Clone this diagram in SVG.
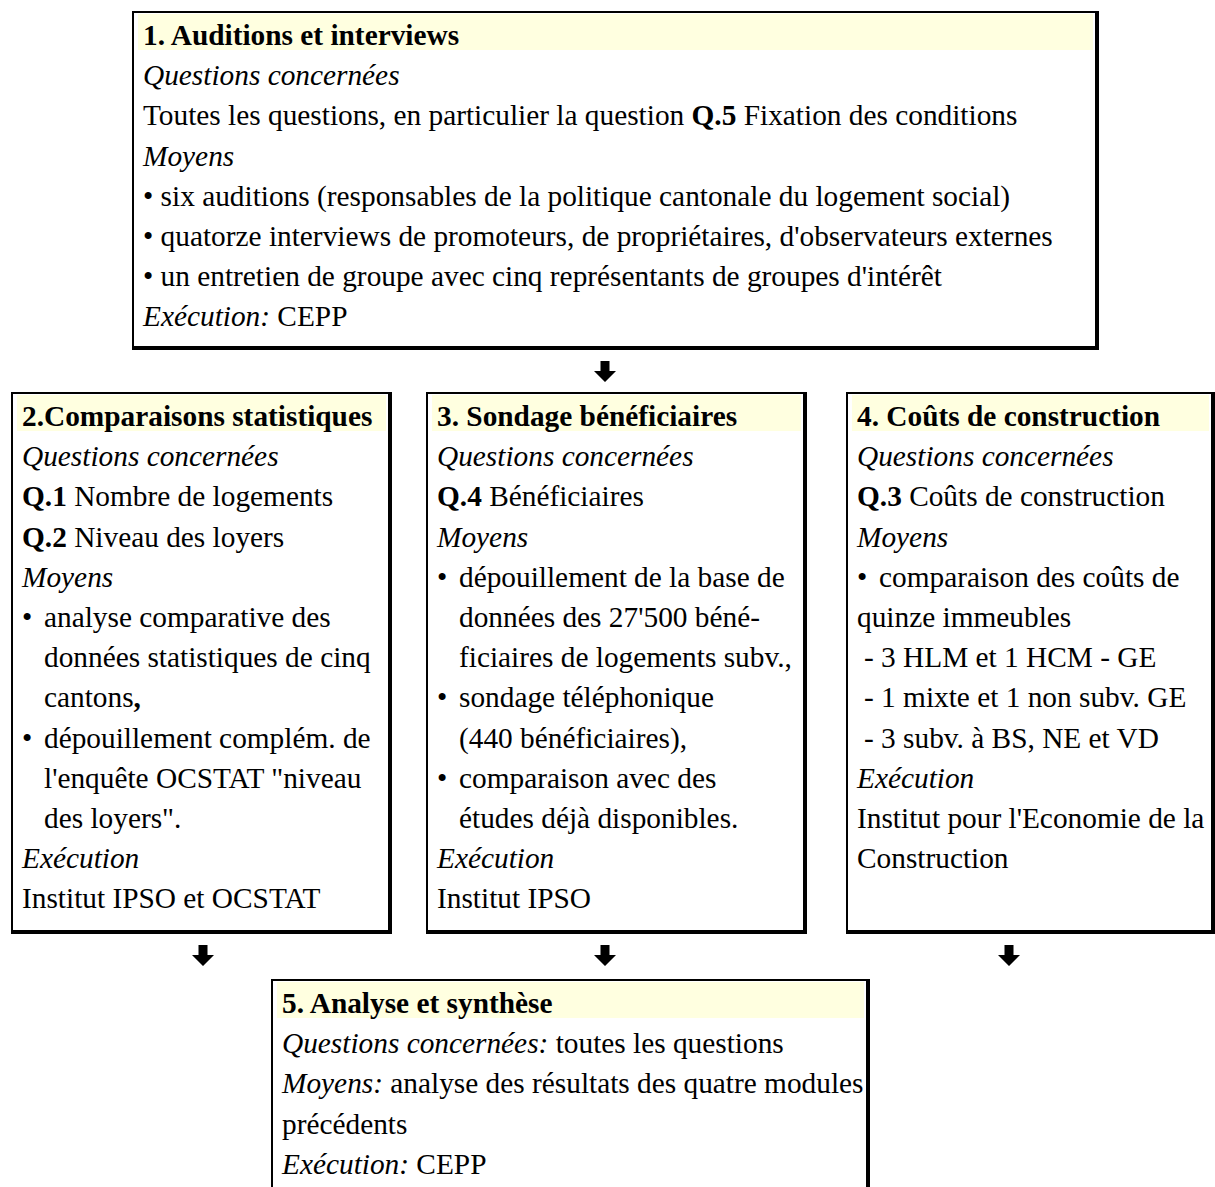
<svg xmlns="http://www.w3.org/2000/svg" xmlns:xlink="http://www.w3.org/1999/xlink" width="1215" height="1187" viewBox="0 0 1215 1187">
<style>
.t{font-family:"Liberation Serif","Times New Roman",serif;font-size:29.33px;fill:#000}
.b{font-weight:bold}
.i{font-style:italic}
.frame{fill:#000}
.inner{fill:#fff}
.hd{fill:#FFFFE0}
</style>
<defs>
<path id="arr" d="M-4.5,0 H4.5 V10 H11 L0,21 L-11,10 H-4.5 Z" fill="#000"/>
</defs>
<rect width="1215" height="1187" fill="#fff"/>

<g id="node1">
<rect class="frame" x="132" y="11" width="967" height="339"/>
<rect class="inner" x="134" y="13" width="961" height="333"/>
<rect class="hd" x="138" y="14" width="955" height="36"/>
<text class="t b" x="143" y="45">1. Auditions et interviews</text>
<text class="t i" x="143" y="85.2">Questions concernées</text>
<text class="t" x="143" y="125.4">Toutes les questions, en particulier la question <tspan class="b">Q.5</tspan> Fixation des conditions</text>
<text class="t i" x="143" y="165.6">Moyens</text>
<text class="t" x="143" y="205.8">• six auditions (responsables de la politique cantonale du logement social)</text>
<text class="t" x="143" y="246">• quatorze interviews de promoteurs, de propriétaires, d'observateurs externes</text>
<text class="t" x="143" y="286.2">• un entretien de groupe avec cinq représentants de groupes d'intérêt</text>
<text class="t" x="143" y="326.4"><tspan class="i">Exécution:</tspan> CEPP</text>
</g>

<g id="node2">
<rect class="frame" x="11" y="392" width="381" height="542"/>
<rect class="inner" x="13" y="394" width="375" height="536"/>
<rect class="hd" x="17" y="395" width="369" height="36"/>
<text class="t b" x="22" y="426">2.Comparaisons statistiques</text>
<text class="t i" x="22" y="466.2">Questions concernées</text>
<text class="t" x="22" y="506.4"><tspan class="b">Q.1</tspan> Nombre de logements</text>
<text class="t" x="22" y="546.6"><tspan class="b">Q.2</tspan> Niveau des loyers</text>
<text class="t i" x="22" y="586.8">Moyens</text>
<text class="t" x="22" y="627">•</text>
<text class="t" x="44" y="627">analyse comparative des</text>
<text class="t" x="44" y="667.2">données statistiques de cinq</text>
<text class="t" x="44" y="707.4">cantons<tspan class="b">,</tspan></text>
<text class="t" x="22" y="747.6">•</text>
<text class="t" x="44" y="747.6">dépouillement complém. de</text>
<text class="t" x="44" y="787.8">l'enquête OCSTAT "niveau</text>
<text class="t" x="44" y="828">des loyers".</text>
<text class="t i" x="22" y="868.2">Exécution</text>
<text class="t" x="22" y="908.4">Institut IPSO et OCSTAT</text>
</g>

<g id="node3">
<rect class="frame" x="426" y="392" width="381" height="542"/>
<rect class="inner" x="428" y="394" width="375" height="536"/>
<rect class="hd" x="432" y="395" width="369" height="36"/>
<text class="t b" x="437" y="426">3. Sondage bénéficiaires</text>
<text class="t i" x="437" y="466.2">Questions concernées</text>
<text class="t" x="437" y="506.4"><tspan class="b">Q.4</tspan> Bénéficiaires</text>
<text class="t i" x="437" y="546.6">Moyens</text>
<text class="t" x="437" y="586.8">•</text>
<text class="t" x="459" y="586.8">dépouillement de la base de</text>
<text class="t" x="459" y="627">données des 27'500 béné-</text>
<text class="t" x="459" y="667.2">ficiaires de logements subv.,</text>
<text class="t" x="437" y="707.4">•</text>
<text class="t" x="459" y="707.4">sondage téléphonique</text>
<text class="t" x="459" y="747.6">(440 bénéficiaires),</text>
<text class="t" x="437" y="787.8">•</text>
<text class="t" x="459" y="787.8">comparaison avec des</text>
<text class="t" x="459" y="828">études déjà disponibles.</text>
<text class="t i" x="437" y="868.2">Exécution</text>
<text class="t" x="437" y="908.4">Institut IPSO</text>
</g>

<g id="node4">
<rect class="frame" x="846" y="392" width="369" height="542"/>
<rect class="inner" x="848" y="394" width="363" height="536"/>
<rect class="hd" x="852" y="395" width="357" height="36"/>
<text class="t b" x="857" y="426">4. Coûts de construction</text>
<text class="t i" x="857" y="466.2">Questions concernées</text>
<text class="t" x="857" y="506.4"><tspan class="b">Q.3</tspan> Coûts de construction</text>
<text class="t i" x="857" y="546.6">Moyens</text>
<text class="t" x="857" y="586.8">•</text>
<text class="t" x="879" y="586.8">comparaison des coûts de</text>
<text class="t" x="857" y="627">quinze immeubles</text>
<text class="t" x="864" y="667.2">- 3 HLM et 1 HCM - GE</text>
<text class="t" x="864" y="707.4">- 1 mixte et 1 non subv. GE</text>
<text class="t" x="864" y="747.6">- 3 subv. à BS, NE et VD</text>
<text class="t i" x="857" y="787.8">Exécution</text>
<text class="t" x="857" y="828">Institut pour l'Economie de la</text>
<text class="t" x="857" y="868.2">Construction</text>
</g>

<g id="node5">
<rect class="frame" x="271" y="979" width="599" height="230"/>
<rect class="inner" x="273" y="981" width="593" height="224"/>
<rect class="hd" x="277" y="982" width="587" height="36"/>
<text class="t b" x="282" y="1013">5. Analyse et synthèse</text>
<text class="t" x="282" y="1053.2"><tspan class="i">Questions concernées:</tspan> toutes les questions</text>
<text class="t" x="282" y="1093.4"><tspan class="i">Moyens:</tspan> analyse des résultats des quatre modules</text>
<text class="t" x="282" y="1133.6">précédents</text>
<text class="t" x="282" y="1173.8"><tspan class="i">Exécution:</tspan> CEPP</text>
</g>

<g id="connectors">
<use xlink:href="#arr" x="605" y="361"/>
<use xlink:href="#arr" x="203" y="945"/>
<use xlink:href="#arr" x="605" y="945"/>
<use xlink:href="#arr" x="1009" y="945"/>
</g>
</svg>
